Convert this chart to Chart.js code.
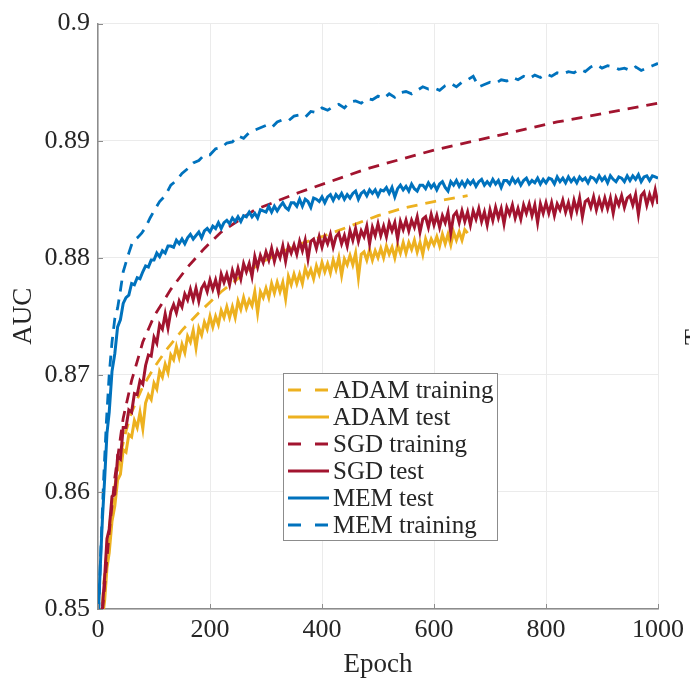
<!DOCTYPE html>
<html>
<head>
<meta charset="utf-8">
<script src="https://cdn.jsdelivr.net/npm/chart.js@4.4.1/dist/chart.umd.min.js"></script>
<style>
  body { margin: 0; background: #fff; }
  canvas { display: block; }
</style>
</head>
<body>
<canvas id="canvas" width="690" height="681"></canvas>
<script>
// epochs used by the noisy test curves: a few early ones, then every 5 epochs
var testEpochs = [1, 4, 8, 12, 16, 20, 25, 30, 35, 40, 45];
for (var e = 50; e <= 1000; e += 5) testEpochs.push(e);

var memTest = [0.8500, 0.8535, 0.8578, 0.8612, 0.8650, 0.8668, 0.8703, 0.8718, 0.8741, 0.8747, 0.8761,
  0.8766, 0.8768, 0.8778, 0.8777, 0.8783, 0.8782, 0.8788, 0.8793, 0.8792, 0.8798,
  0.8798, 0.8804, 0.8801, 0.8806, 0.8804, 0.8810, 0.8810, 0.8809, 0.8815, 0.8812,
  0.8816, 0.8812, 0.8817, 0.8820, 0.8816, 0.8819, 0.8822, 0.8817, 0.8823, 0.8825,
  0.8822, 0.8827, 0.8825, 0.8830, 0.8825, 0.8830, 0.8832, 0.8829, 0.8834, 0.8831,
  0.8835, 0.8831, 0.8836, 0.8835, 0.8839, 0.8835, 0.8838, 0.8834, 0.8841, 0.8840,
  0.8839, 0.8844, 0.8839, 0.8844, 0.8840, 0.8844, 0.8847, 0.8843, 0.8841, 0.8847,
  0.8847, 0.8844, 0.8850, 0.8844, 0.8850, 0.8848, 0.8843, 0.8851, 0.8850, 0.8848,
  0.8852, 0.8847, 0.8852, 0.8854, 0.8849, 0.8854, 0.8851, 0.8855, 0.8850, 0.8854,
  0.8851, 0.8855, 0.8857, 0.8850, 0.8855, 0.8857, 0.8853, 0.8858, 0.8855, 0.8858,
  0.8853, 0.8858, 0.8857, 0.8860, 0.8855, 0.8860, 0.8852, 0.8859, 0.8862, 0.8858,
  0.8861, 0.8857, 0.8863, 0.8859, 0.8857, 0.8862, 0.8862, 0.8859, 0.8864, 0.8860,
  0.8863, 0.8858, 0.8863, 0.8865, 0.8860, 0.8857, 0.8865, 0.8862, 0.8866, 0.8861,
  0.8865, 0.8861, 0.8866, 0.8863, 0.8866, 0.8861, 0.8865, 0.8867, 0.8862, 0.8865,
  0.8862, 0.8867, 0.8863, 0.8866, 0.8860, 0.8866, 0.8866, 0.8863, 0.8868, 0.8864,
  0.8867, 0.8862, 0.8866, 0.8868, 0.8863, 0.8866, 0.8864, 0.8868, 0.8863, 0.8867,
  0.8864, 0.8868, 0.8867, 0.8863, 0.8869, 0.8865, 0.8868, 0.8864, 0.8869, 0.8865,
  0.8868, 0.8864, 0.8869, 0.8866, 0.8868, 0.8864, 0.8869, 0.8868, 0.8865, 0.8870,
  0.8866, 0.8869, 0.8864, 0.8870, 0.8867, 0.8865, 0.8869, 0.8868, 0.8865, 0.8870,
  0.8866, 0.8870, 0.8867, 0.8871, 0.8865, 0.8869, 0.8870, 0.8866, 0.8870, 0.8869,
  0.8868];

var sgdTest = [0.8470, 0.8484, 0.8502, 0.8528, 0.8560, 0.8568, 0.8596, 0.8598, 0.8630, 0.8628, 0.8655,
  0.8655, 0.8670, 0.8668, 0.8684, 0.8683, 0.8695, 0.8692, 0.8708, 0.8717, 0.8716,
  0.8732, 0.8727, 0.8743, 0.8739, 0.8752, 0.8740, 0.8754, 0.8760, 0.8753, 0.8763,
  0.8758, 0.8769, 0.8764, 0.8773, 0.8764, 0.8774, 0.8763, 0.8774, 0.8778, 0.8771,
  0.8781, 0.8773, 0.8781, 0.8771, 0.8786, 0.8779, 0.8786, 0.8777, 0.8789, 0.8781,
  0.8791, 0.8782, 0.8795, 0.8788, 0.8795, 0.8784, 0.8801, 0.8792, 0.8802, 0.8796,
  0.8805, 0.8798, 0.8808, 0.8797, 0.8806, 0.8800, 0.8810, 0.8797, 0.8810, 0.8804,
  0.8811, 0.8803, 0.8814, 0.8806, 0.8815, 0.8799, 0.8814, 0.8816, 0.8808, 0.8818,
  0.8809, 0.8818, 0.8812, 0.8820, 0.8809, 0.8818, 0.8821, 0.8812, 0.8819, 0.8810,
  0.8823, 0.8815, 0.8825, 0.8814, 0.8823, 0.8818, 0.8827, 0.8812, 0.8826, 0.8819,
  0.8829, 0.8819, 0.8827, 0.8818, 0.8830, 0.8823, 0.8830, 0.8816, 0.8831, 0.8824,
  0.8832, 0.8823, 0.8832, 0.8826, 0.8835, 0.8822, 0.8833, 0.8835, 0.8826, 0.8837,
  0.8828, 0.8836, 0.8826, 0.8836, 0.8830, 0.8839, 0.8821, 0.8836, 0.8839, 0.8830,
  0.8840, 0.8831, 0.8839, 0.8828, 0.8840, 0.8833, 0.8842, 0.8831, 0.8839, 0.8828,
  0.8841, 0.8832, 0.8843, 0.8834, 0.8842, 0.8829, 0.8843, 0.8837, 0.8845, 0.8834,
  0.8842, 0.8833, 0.8845, 0.8838, 0.8846, 0.8836, 0.8845, 0.8830, 0.8846, 0.8838,
  0.8847, 0.8838, 0.8847, 0.8836, 0.8846, 0.8841, 0.8849, 0.8839, 0.8847, 0.8837,
  0.8849, 0.8840, 0.8851, 0.8835, 0.8848, 0.8850, 0.8843, 0.8852, 0.8841, 0.8850,
  0.8842, 0.8851, 0.8842, 0.8851, 0.8838, 0.8851, 0.8845, 0.8853, 0.8843, 0.8851,
  0.8853, 0.8845, 0.8854, 0.8837, 0.8853, 0.8856, 0.8845, 0.8854, 0.8847, 0.8858,
  0.8846];

// ADAM test stops at epoch 660
var adamTest = [0.8460, 0.8475, 0.8492, 0.8508, 0.8535, 0.8548, 0.8575, 0.8588, 0.8610, 0.8615, 0.8636,
  0.8634, 0.8649, 0.8647, 0.8661, 0.8655, 0.8668, 0.8654, 0.8676, 0.8683, 0.8679,
  0.8693, 0.8688, 0.8703, 0.8698, 0.8709, 0.8702, 0.8717, 0.8713, 0.8724, 0.8715,
  0.8726, 0.8719, 0.8733, 0.8728, 0.8738, 0.8723, 0.8740, 0.8734, 0.8745, 0.8739,
  0.8750, 0.8741, 0.8750, 0.8743, 0.8755, 0.8749, 0.8758, 0.8749, 0.8758, 0.8749,
  0.8763, 0.8756, 0.8766, 0.8757, 0.8764, 0.8759, 0.8771, 0.8753, 0.8771, 0.8766,
  0.8774, 0.8766, 0.8778, 0.8770, 0.8779, 0.8771, 0.8779, 0.8765, 0.8784, 0.8777,
  0.8786, 0.8778, 0.8786, 0.8778, 0.8791, 0.8784, 0.8790, 0.8782, 0.8793, 0.8786,
  0.8796, 0.8788, 0.8795, 0.8787, 0.8798, 0.8790, 0.8800, 0.8785, 0.8799, 0.8794,
  0.8802, 0.8794, 0.8804, 0.8783, 0.8803, 0.8805, 0.8798, 0.8807, 0.8798, 0.8806,
  0.8800, 0.8808, 0.8800, 0.8810, 0.8803, 0.8809, 0.8800, 0.8811, 0.8804, 0.8813,
  0.8804, 0.8813, 0.8807, 0.8815, 0.8805, 0.8813, 0.8803, 0.8816, 0.8809, 0.8816,
  0.8811, 0.8818, 0.8810, 0.8820, 0.8812, 0.8820, 0.8811, 0.8822, 0.8815, 0.8822, 0.8815, 0.8824,
  0.8821];

// smooth training curves
var adamTrainEpochs = [0, 10, 20, 30, 40, 50, 60, 80, 100, 120, 150, 180, 220, 260, 300, 350, 400, 450, 500, 550, 600, 660];
var adamTrain = [0.8440, 0.8520, 0.8570, 0.8605, 0.8632, 0.8652, 0.8668, 0.8690, 0.8706, 0.8720, 0.8738, 0.8753, 0.8771, 0.8786, 0.8798, 0.8810, 0.8818, 0.8827, 0.8836, 0.8843, 0.8848, 0.8853];

var sgdTrainEpochs = [0, 10, 20, 30, 45, 60, 80, 100, 130, 160, 190, 220, 280, 360, 480, 600, 720, 820, 900, 1000];
var sgdTrain = [0.8450, 0.8510, 0.8565, 0.8612, 0.8663, 0.8695, 0.8728, 0.8750, 0.8773, 0.8792, 0.8808, 0.8822, 0.8841, 0.8856, 0.8876, 0.8892, 0.8905, 0.8916, 0.8923, 0.8932];

var memTrainEpochs = [0, 5, 10, 15, 20, 25, 30, 35, 40, 45, 50, 55, 62, 70, 78, 85, 93,
  100, 110, 120, 130, 140, 150, 160, 170, 180, 190, 200, 210, 220, 230, 240, 250, 260, 270, 280, 290,
  300, 310, 320, 330, 340, 350, 360, 370, 380, 390, 400, 410, 420, 430, 440, 450, 460, 470, 480, 490,
  500, 510, 520, 530, 540, 550, 560, 570, 580, 590, 600, 610, 620, 630, 640, 650, 660, 670, 680, 690,
  700, 710, 720, 730, 740, 750, 760, 770, 780, 790, 800, 810, 820, 830, 840, 850, 860, 870, 880, 890,
  900, 910, 920, 930, 940, 950, 960, 970, 980, 990, 1000];
var memTrain = [0.8480, 0.8550, 0.8610, 0.8660, 0.8700, 0.8728, 0.8748, 0.8757, 0.8772, 0.8788, 0.8796, 0.8804, 0.8814, 0.8817, 0.8821, 0.8826, 0.8834,
  0.8840, 0.8848, 0.8853, 0.8862, 0.8866, 0.8872, 0.8876, 0.8881, 0.8883, 0.8888, 0.8888, 0.8893, 0.8894, 0.8898, 0.8899, 0.8904, 0.8902, 0.8907, 0.8909, 0.8911,
  0.8913, 0.8911, 0.8916, 0.8918, 0.8917, 0.8921, 0.8922, 0.8920, 0.8925, 0.8924, 0.8928, 0.8926, 0.8929, 0.8931, 0.8928, 0.8933, 0.8934, 0.8932, 0.8936, 0.8935,
  0.8938, 0.8936, 0.8940, 0.8937, 0.8941, 0.8942, 0.8940, 0.8943, 0.8946, 0.8944, 0.8945, 0.8943, 0.8947, 0.8949, 0.8946, 0.8950, 0.8952, 0.8955, 0.8946, 0.8948,
  0.8950, 0.8949, 0.8952, 0.8951, 0.8954, 0.8952, 0.8955, 0.8953, 0.8956, 0.8954, 0.8957, 0.8955, 0.8958, 0.8957, 0.8959, 0.8958, 0.8961, 0.8959, 0.8963, 0.8965,
  0.8962, 0.8964, 0.8963, 0.8961, 0.8962, 0.8960, 0.8963, 0.8960, 0.8962, 0.8964, 0.8966];

var xTicks = [0, 200, 400, 600, 800, 1000];
var xTickLabels = ['0', '200', '400', '600', '800', '1000'];
var yTicks = [0.85, 0.86, 0.87, 0.88, 0.89, 0.9];
var yTickLabels = ['0.85', '0.86', '0.87', '0.88', '0.89', '0.9'];

var BLUE = '#0072BD', RED = '#A2142F', YELLOW = '#EDB120';
var FONT = "'Liberation Serif', 'Times New Roman', serif";

function pts(xs, ys) {
  return ys.map(function (v, i) { return { x: xs[i], y: v }; });
}

function series(label, xs, ys, color, dashed, order) {
  return {
    label: label,
    data: pts(xs, ys),
    borderColor: color,
    backgroundColor: color,
    borderWidth: dashed ? 2.8 : 3,
    borderDash: dashed ? [11, 8] : [],
    pointRadius: 0,
    tension: 0,
    clip: 0,
    order: order
  };
}

var datasets = [
  series('ADAM training', adamTrainEpochs, adamTrain, YELLOW, true, 6),
  series('ADAM test', testEpochs.slice(0, adamTest.length), adamTest, YELLOW, false, 5),
  series('SGD training', sgdTrainEpochs, sgdTrain, RED, true, 4),
  series('SGD test', testEpochs, sgdTest, RED, false, 3),
  series('MEM test', testEpochs, memTest, BLUE, false, 2),
  series('MEM training', memTrainEpochs, memTrain, BLUE, true, 1)
];

// legend box inside the plot, plus inward tick marks and the clipped label at the right edge
var extras = {
  id: 'extras',
  afterDraw: function (chart) {
    var ctx = chart.ctx, xs = chart.scales.x, ys = chart.scales.y, a = chart.chartArea;
    ctx.save();
    ctx.strokeStyle = '#8c8c8c';
    ctx.lineWidth = 1;
    xTicks.forEach(function (t) {
      var px = Math.round(xs.getPixelForValue(t)) + 0.5;
      ctx.beginPath(); ctx.moveTo(px, a.bottom); ctx.lineTo(px, a.bottom - 5); ctx.stroke();
    });
    yTicks.forEach(function (t) {
      var py = Math.round(ys.getPixelForValue(t)) + 0.5;
      ctx.beginPath(); ctx.moveTo(a.left, py); ctx.lineTo(a.left + 5, py); ctx.stroke();
    });

    // legend
    var bx = 283, by = 373, bw = 214, bh = 167;
    ctx.fillStyle = '#fff';
    ctx.fillRect(bx, by, bw, bh);
    ctx.strokeStyle = '#8c8c8c';
    ctx.strokeRect(bx + 0.5, by + 0.5, bw, bh);
    ctx.font = '25px ' + FONT;
    ctx.textBaseline = 'middle';
    ctx.textAlign = 'left';
    datasets.forEach(function (d, i) {
      var y = by + 17 + i * 27;
      ctx.strokeStyle = d.borderColor;
      ctx.lineWidth = 3;
      ctx.setLineDash(d.borderDash.length ? [13, 14] : []);
      ctx.beginPath(); ctx.moveTo(288, y); ctx.lineTo(329, y); ctx.stroke();
      ctx.setLineDash([]);
      ctx.fillStyle = '#262626';
      ctx.fillText(d.label, 333, y + 1);
    });

    // edge of the next panel's rotated label, cut by the frame
    ctx.translate(702, 337);
    ctx.rotate(-Math.PI / 2);
    ctx.textAlign = 'center';
    ctx.textBaseline = 'alphabetic';
    ctx.font = '26px ' + FONT;
    ctx.fillStyle = '#262626';
    ctx.fillText('T', 0, 0);
    ctx.restore();
  }
};

var ctx = document.getElementById('canvas').getContext('2d');
var chart = new Chart(ctx, {
  type: 'line',
  data: { datasets: datasets },
  options: {
    responsive: false,
    animation: false,
    layout: { padding: { left: 0, right: 28, top: 21, bottom: 0 } },
    plugins: { legend: { display: false }, tooltip: { enabled: false } },
    scales: {
      x: {
        type: 'linear',
        min: 0, max: 1000,
        afterBuildTicks: function (s) { s.ticks = xTicks.map(function (v) { return { value: v }; }); },
        afterFit: function (s) { s.height = 72; },
        ticks: {
          color: '#262626', font: { family: FONT, size: 26 }, padding: 6, maxRotation: 0,
          callback: function (v) { return xTickLabels[xTicks.indexOf(v)]; }
        },
        grid: { color: '#ebebeb', lineWidth: 1, drawTicks: false },
        border: { color: '#8c8c8c', width: 1.5 },
        title: { display: true, text: 'Epoch', color: '#262626', font: { family: FONT, size: 27 }, padding: { top: 0, bottom: 0 } }
      },
      y: {
        min: 0.85, max: 0.9,
        afterBuildTicks: function (s) { s.ticks = yTicks.map(function (v) { return { value: v }; }); },
        afterFit: function (s) { s.width = 98; },
        ticks: {
          color: '#262626', font: { family: FONT, size: 26 }, padding: 8,
          callback: function (v) { return yTickLabels[yTicks.indexOf(Number(v.toFixed(2)))]; }
        },
        grid: { color: '#ebebeb', lineWidth: 1, drawTicks: false },
        border: { color: '#8c8c8c', width: 1.5 },
        title: { display: true, text: 'AUC', color: '#262626', font: { family: FONT, size: 27 }, padding: { top: 8, bottom: 0 } }
      }
    }
  },
  plugins: [extras]
});
</script>
</body>
</html>
